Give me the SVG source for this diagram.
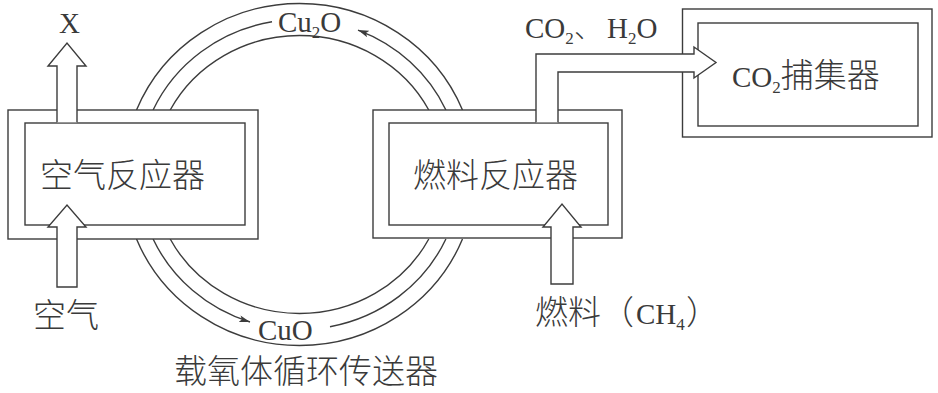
<svg xmlns="http://www.w3.org/2000/svg" width="938" height="393" viewBox="0 0 938 393">
<style>
.ln{fill:none;stroke:#3c3c3c;stroke-width:1.4}
.bx{fill:#fff;stroke:#3c3c3c;stroke-width:1.4}
.ar{fill:#fff;stroke:#3c3c3c;stroke-width:1.4;stroke-linejoin:miter}
.cj{font-family:"Noto Sans CJK SC","Noto Sans CJK JP",sans-serif;font-size:33px;font-weight:300;fill:#3a3a3a}
.lt{font-family:"Liberation Serif","Times New Roman",serif;font-size:29px;fill:#3a3a3a}
.sb{font-size:17px}
</style>
<defs>
<marker id="ah" viewBox="0 0 11 7" refX="11" refY="3.5" markerWidth="11" markerHeight="7" markerUnits="userSpaceOnUse" orient="auto">
<path d="M0,0 L11,3.5 L0,7 L2.5,3.5 Z" fill="#3c3c3c"/>
</marker>
</defs>
<rect width="938" height="393" fill="#fff"/>

<g id="carrier">
<path class="ln" d="M136.5,110 A176,171 0 0 1 462.5,110"/>
<path class="ln" d="M170.2,110 A146,139 0 0 1 428.8,110"/>
<path class="ln" d="M153.1,110 A161,155 0 0 1 272,21.8"/>
<path class="ln" d="M445.9,110 A161,155 0 0 0 358,30.1" marker-end="url(#ah)"/>
<path class="ln" d="M136.5,239 A176,171 0 0 0 462.5,239"/>
<path class="ln" d="M170.2,239 A146,139 0 0 0 428.8,239"/>
<path class="ln" d="M153.1,239 A161,155 0 0 0 250,322" marker-end="url(#ah)"/>
<path class="ln" d="M330,326.7 A161,155 0 0 0 445.9,239"/>
<text class="lt" x="278" y="32">Cu<tspan class="sb" dy="6">2</tspan><tspan dy="-6">O</tspan></text>
<text class="lt" x="258" y="340">CuO</text>
<text class="cj" x="174" y="383">载氧体循环传送器</text>
</g>

<g id="air-reactor">
<rect class="bx" x="8" y="110" width="250" height="129"/>
<rect class="ln" x="25" y="123" width="220" height="102"/>
<text class="cj" x="40" y="187">空气反应器</text>
</g>

<g id="fuel-reactor">
<rect class="bx" x="373" y="110" width="249" height="128"/>
<rect class="ln" x="389" y="123" width="219" height="102"/>
<text class="cj" x="413" y="187">燃料反应器</text>
</g>

<g id="co2-capture">
<rect class="bx" x="682.5" y="9" width="249.5" height="128"/>
<rect class="ln" x="698" y="23" width="220" height="103"/>
<text x="732" y="87"><tspan class="lt">CO</tspan><tspan class="lt sb" dy="6">2</tspan><tspan class="cj" dy="-6">捕集器</tspan></text>
</g>

<g id="connectors">
<path class="ar" d="M57,122.2 V66 H48 L67,43 L86,66 H77 V122.2"/>
<path class="ar" d="M57,287 V227 H48 L67,205 L86,227 H77 V287 Z"/>
<path class="ar" d="M551,284 V227 H543 L562,204 L581,227 H573 V284 Z"/>
<path class="ar" d="M536,122.2 V54 H694 V47 L716,62.5 L694,78 V72 H558 V122.2"/>
</g>

<g id="labels">
<text class="lt" x="59" y="33">X</text>
<text class="cj" x="33" y="327">空气</text>
<text y="324"><tspan class="cj" x="535">燃料（</tspan><tspan class="lt" x="636">CH</tspan><tspan class="lt sb" dy="6">4</tspan><tspan class="cj" dy="-6" x="686">）</tspan></text>
<text y="38"><tspan class="lt" x="525">CO</tspan><tspan class="lt sb" dy="6">2</tspan><tspan class="cj" dy="-6" x="574" style="font-size:28px">、</tspan><tspan class="lt" x="607">H</tspan><tspan class="lt sb" dy="6">2</tspan><tspan class="lt" dy="-6">O</tspan></text>
</g>
</svg>
